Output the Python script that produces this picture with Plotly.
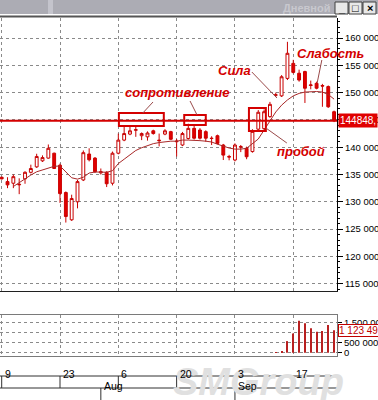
import plotly.graph_objects as go

W, H = 378, 400

# ---------------- data ----------------
day_index = list(range(58))  # trading days from 2012-07-09
opens = [134500, 133700, 133400, 133100, 134200, 135400, 136400, 137500, 138000, 138900,
         136700, 131700, 126700, 130000, 134000, 138750, 138000, 135300, 135400, 133400,
         138900, 141300, 142400, 143100, 142100, 141900, 143000, 141300, 142400, 142850,
         141000, 140400, 141600, 143450, 143150, 142850, 141650, 142100, 140400, 138300,
         137650, 140000, 139800, 139200, 143300, 143400, 145600, 149500, 149400, 152600,
         155350, 153550, 153850, 151300, 151700, 151300, 151100, 146500]
highs = [134600, 134500, 135000, 134300, 135600, 136800, 138800, 138500, 140500, 139000,
         137000, 131900, 131300, 134000, 139400, 139800, 138200, 136100, 135600, 139200,
         142500, 143900, 143900, 144000, 142700, 142900, 143200, 142500, 143300, 143000,
         141500, 142800, 144300, 144000, 143500, 143100, 142000, 142300, 140600, 138600,
         140700, 140400, 140100, 143300, 146800, 146900, 148300, 150000, 153200, 159300,
         156000, 154200, 154000, 152200, 152000, 151600, 151300, 146700]
lows = [134100, 132500, 132500, 131400, 133300, 135200, 136200, 137300, 137900, 136000,
        129800, 126200, 126500, 128800, 133800, 137400, 135300, 135000, 132700, 133000,
        138700, 141100, 142200, 141900, 141300, 141200, 142300, 140150, 142200, 141300,
        138300, 140200, 141400, 141400, 141400, 141000, 140400, 140500, 137650, 137600,
        137400, 139100, 137800, 139000, 143000, 143100, 145400, 149200, 149200, 152300,
        153500, 152000, 148100, 150600, 150600, 147400, 147200, 144600]
closes = [134200, 133100, 134600, 133200, 135400, 136100, 138300, 138100, 139800, 136100,
          131500, 127300, 130600, 133700, 139000, 137700, 135500, 135500, 133300, 138900,
          141300, 142500, 143000, 143200, 142500, 142600, 142500, 141200, 143000, 141450,
          141100, 142500, 143450, 141650, 141650, 141650, 141600, 140700, 138550, 138200,
          140400, 140100, 138250, 142900, 146400, 146500, 147850, 149600, 152900, 157200,
          153700, 152300, 150800, 151400, 150800, 151200, 147400, 144848]
moving_avg = [None, None, 132800, 133500, 134300, 134900, 135500, 135850, 136150, 136500,
              136560, 135400, 134400, 134150, 134500, 135270, 135450, 135450, 135400, 135700,
              137000, 137800, 138600, 139400, 139900, 140300, 140650, 140850, 141000, 141100,
              141100, 141300, 141300, 141300, 141200, 141100, 140950, 140550, 140200, 139850,
              139650, 139650, 139800, 140600, 141500, 143150, 144800, 146450, 147700, 148650,
              149400, 149850, 150100, 150200, 150200, 150100, 149650, 148800]
volume = [0] * 47 + [15000, 90000, 580000, 965000, 1600000, 1470000, 1220000,
                     1050000, 1080000, 1390000, 1123490]
level_line = 144848

price_ticks = [115000, 120000, 125000, 130000, 135000, 140000, 145000, 150000, 155000, 160000]
price_tick_labels = ["115 000", "120 000", "125 000", "130 000", "135 000",
                     "140 000", "145 000", "150 000", "155 000", "160 000"]
vol_ticks = [0, 500000, 1000000, 1500000]
vol_tick_labels = ["0", "500 000", "", "1 500 000"]
date_tick_idx = [0, 10, 20, 30, 40, 50]
date_tick_labels = ["9", "23", "6", "20", "3", "17"]
month_idx = [17, 40]
month_labels = ["Aug", "Sep"]

# ---------------- layout helpers ----------------
def px(x):
    return x / W

def py(y):
    return 1 - y / H

RED = "#d40000"
GRID = "#8a8a8a"
FONT = "Liberation Sans, Arial, sans-serif"
TICKSIZE = 9.5

fig = go.Figure()
fig.add_trace(go.Candlestick(
    x=day_index, open=opens, high=highs, low=lows, close=closes,
    increasing=dict(line=dict(color="#c80000", width=1), fillcolor="#ffffff"),
    decreasing=dict(line=dict(color="#cc0000", width=1), fillcolor="#e00000"),
    whiskerwidth=0, showlegend=False, xaxis="x", yaxis="y", hoverinfo="skip"))
fig.add_trace(go.Scatter(
    x=day_index, y=moving_avg, mode="lines", line=dict(color="#a82828", width=1),
    showlegend=False, xaxis="x", yaxis="y", hoverinfo="skip"))
fig.add_trace(go.Bar(
    x=day_index, y=volume, width=0.2, marker=dict(color="#b82020", line=dict(width=0)),
    showlegend=False, xaxis="x2", yaxis="y2", hoverinfo="skip"))

xdom = [0, px(337)]
common_x = dict(domain=xdom, range=[-0.29, 57.5], tickmode="array", tickvals=date_tick_idx,
                showticklabels=False, ticks="", showgrid=True, gridcolor=GRID, gridwidth=1,
                griddash="3px,3px", zeroline=False, fixedrange=True, automargin=False)

fig.update_layout(
    width=W, height=H, margin=dict(l=0, r=0, t=0, b=0, autoexpand=False),
    paper_bgcolor="white", plot_bgcolor="white",
    font=dict(family=FONT, size=11, color="black"),
    xaxis=dict(**common_x, anchor="y", showline=True, linecolor="#202020", linewidth=1,
               rangeslider=dict(visible=False)),
    yaxis=dict(domain=[py(291), py(18)], range=[113663, 163663], side="right", anchor="x",
               tickmode="array", tickvals=price_ticks, ticktext=price_tick_labels,
               ticks="outside", ticklen=5, tickcolor="black", showline=True,
               linecolor="black", linewidth=1, showgrid=True, gridcolor=GRID,
               griddash="3px,3px", zeroline=False, automargin=False,
               minor=dict(ticks="outside", ticklen=2, tickcolor="black", tick0=0,
                          dtick=1000, showgrid=False),
               tickfont=dict(size=TICKSIZE, color="black", family=FONT)),
    xaxis2=dict(**common_x, anchor="y2", matches="x", showline=True, mirror=True,
                linecolor="#7a7a7a", linewidth=1),
    yaxis2=dict(domain=[py(356), py(315)], range=[-165000, 1885000], side="right",
                anchor="x2", tickmode="array", tickvals=vol_ticks, ticktext=vol_tick_labels,
                ticks="outside", ticklen=4, tickcolor="black", showline=True, mirror=True,
                linecolor="#7a7a7a", linewidth=1, showgrid=True, gridcolor=GRID,
                griddash="3px,3px", zeroline=False, automargin=False,
                tickfont=dict(size=TICKSIZE, color="black", family=FONT)),
    bargap=0.8,
)

shapes = []
# title bar
shapes.append(dict(type="rect", xref="paper", yref="paper", x0=0, x1=1, y0=py(14), y1=1,
                   fillcolor="#acacb4", line=dict(width=0), layer="above"))
shapes.append(dict(type="rect", xref="paper", yref="paper", x0=px(48), x1=px(53), y0=py(14), y1=1,
                   fillcolor="#c4c4cc", line=dict(width=0), layer="above"))
shapes.append(dict(type="line", xref="paper", yref="paper", x0=0, x1=px(337), y0=py(16.5), y1=py(16.5),
                   line=dict(color="#555555", width=2), layer="above"))
# window buttons
for bx in (335, 349, 363):
    shapes.append(dict(type="rect", xref="paper", yref="paper", x0=px(bx), x1=px(bx + 13),
                       y0=py(14), y1=py(2), fillcolor="#e8e8e8",
                       line=dict(color="#404040", width=1), layer="above"))
# level line
shapes.append(dict(type="line", xref="x domain", yref="y", x0=0, x1=1, y0=level_line, y1=level_line,
                   line=dict(color=RED, width=2)))
# annotation boxes (data coords)
for (x0, x1, y0, y1) in [(20.1, 27.8, 143880, 146260), (31.3, 35.0, 144070, 145900),
                         (42.4, 45.3, 142970, 147180)]:
    shapes.append(dict(type="rect", xref="x", yref="y", x0=x0, x1=x1, y0=y0, y1=y1,
                       line=dict(color=RED, width=2), fillcolor="rgba(0,0,0,0)"))
# pointer lines
for (x0, y0, x1, y1) in [(25.95, 148280, 24.2, 146260), (32.3, 148460, 33.5, 145900),
                         (42.9, 153770, 47.2, 149010), (54.9, 155970, 54.1, 151760),
                         (48.9, 140770, 45.3, 143520)]:
    shapes.append(dict(type="line", xref="x", yref="y", x0=x0, y0=y0, x1=x1, y1=y1,
                       line=dict(color="#9a4a4a", width=1)))
# date strip
for yy in (376, 388):
    shapes.append(dict(type="line", xref="paper", yref="paper", x0=0, x1=px(338), y0=py(yy), y1=py(yy),
                       line=dict(color="#303030", width=1)))
for d in date_tick_idx:
    shapes.append(dict(type="line", xref="x", yref="paper", x0=d, x1=d, y0=py(388), y1=py(376),
                       line=dict(color="#303030", width=1)))
for m in month_idx:
    shapes.append(dict(type="line", xref="x", yref="paper", x0=m, x1=m, y0=py(400), y1=py(388),
                       line=dict(color="#303030", width=1)))

ann = []
# watermark first (drawn beneath other text)
ann.append(dict(text="<b><i>SMGroup</i></b>", xref="paper", yref="paper", x=px(258), y=py(382),
                xanchor="center", yanchor="middle",
                showarrow=False, font=dict(size=38, color="#e0e0e0", family=FONT)))
ann.append(dict(text="<b>Дневной</b>", xref="paper", yref="paper", x=px(333), y=py(8),
                xanchor="right", yanchor="middle", showarrow=False,
                font=dict(size=11, color="#c8c8ce", family=FONT)))
for bx, glyph in zip((335, 349, 363), ("_", "□", "×")):
    ann.append(dict(text="<b>" + glyph + "</b>", xref="paper", yref="paper", x=px(bx + 6.5), y=py(8),
                    xanchor="center", yanchor="middle",
                    showarrow=False, font=dict(size=11, color="black", family=FONT)))

txt_font = dict(size=13, color=RED, family=FONT, style="italic", weight="bold")
ann.append(dict(text="сопротивление", xref="x", yref="y", x=30.1, y=149930, xanchor="center",
                showarrow=False, font=txt_font))
ann.append(dict(text="Сила", xref="x", yref="y", x=40.0, y=154140, xanchor="center",
                showarrow=False, font=txt_font))
ann.append(dict(text="Слабость", xref="x", yref="y", x=56.3, y=157250, xanchor="center",
                showarrow=False, font=txt_font))
ann.append(dict(text="пробой", xref="x", yref="y", x=51.3, y=139300, xanchor="center",
                showarrow=False, font=txt_font))

ann.append(dict(text="144848,", xref="paper", yref="y", x=px(338), y=level_line, xanchor="left",
                showarrow=False, bgcolor="#e00000", borderpad=1,
                font=dict(size=10, color="white", family=FONT)))
ann.append(dict(text="1 123 49", xref="paper", yref="y2", x=px(338), y=volume[-1], xanchor="left",
                showarrow=False, bgcolor="white", bordercolor="#c00000", borderwidth=1, borderpad=0,
                font=dict(size=10, color="#c00000", family=FONT)))
for d, lab in zip(date_tick_idx, date_tick_labels):
    ann.append(dict(text=lab, xref="x", yref="paper", x=d, y=py(382), xanchor="left", xshift=1,
                    showarrow=False, font=dict(size=10.5, color="black", family=FONT)))
for m, lab in zip(month_idx, month_labels):
    ann.append(dict(text=lab, xref="x", yref="paper", x=m, y=py(394), xanchor="left", xshift=1,
                    showarrow=False, font=dict(size=10.5, color="black", family=FONT)))

fig.update_layout(shapes=shapes, annotations=ann)
fig.write_html("out.html")
